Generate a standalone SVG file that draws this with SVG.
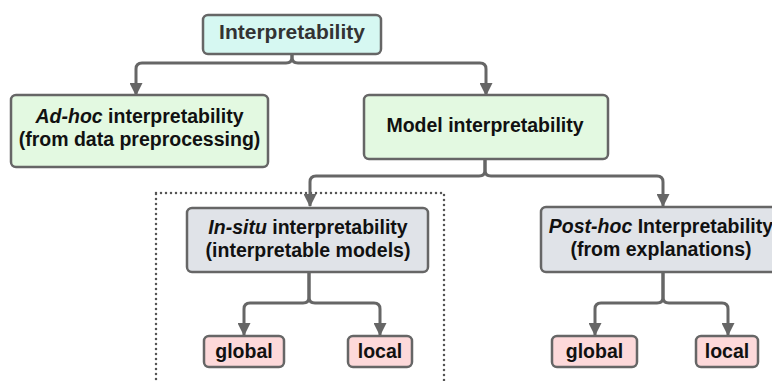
<svg xmlns="http://www.w3.org/2000/svg" width="772" height="381" viewBox="0 0 772 381">
<style>
.box{stroke:#666;stroke-width:2.5}
.c{fill:#d6f8f2}.g{fill:#e3f9e1}.s{fill:#e0e3e8}.p{fill:#fdd9da}
text{font-family:"Liberation Sans",Arial,sans-serif;font-weight:bold;font-size:19.5px;fill:#111;text-anchor:middle}
.conn path{fill:none;stroke:#666;stroke-width:3;marker-end:url(#ah)}
</style>
<defs>
<marker id="ah" markerUnits="userSpaceOnUse" markerWidth="13" markerHeight="13" refX="12" refY="6.5" orient="auto"><path d="M0,0 L13,6.5 L0,13 z" fill="#666"/></marker>
</defs>
<rect x="156" y="193" width="288" height="210" fill="none" stroke="#555" stroke-width="2.5" stroke-dasharray="0 5" stroke-linecap="round"/>
<g class="conn">
<path d="M292,54 V57 Q292,63 286,63 H142 Q136,63 136,69 V95"/>
<path d="M292,54 V57 Q292,63 298,63 H480 Q486,63 486,69 V95"/>
<path d="M485,159 V170 Q485,176 479,176 H316 Q310,176 310,182 V206"/>
<path d="M485,159 V170 Q485,176 491,176 H657 Q663,176 663,182 V206"/>
<path d="M309,272 V297 Q309,303 303,303 H250 Q244,303 244,309 V335"/>
<path d="M309,272 V297 Q309,303 315,303 H374 Q380,303 380,309 V335"/>
<path d="M663,272 V297 Q663,303 657,303 H601 Q595,303 595,309 V335"/>
<path d="M663,272 V297 Q663,303 669,303 H722 Q728,303 728,309 V335"/>
</g>
<g id="root"><rect class="box c" x="203" y="15" width="178" height="39" rx="5"/><text x="292" y="39" style="font-size:21px;fill:#333">Interpretability</text></g>
<g id="adhoc"><rect class="box g" x="11" y="95" width="257" height="72" rx="5"/><text x="139.5" y="123"><tspan font-style="italic">Ad-hoc</tspan> interpretability</text><text x="139.5" y="146">(from data preprocessing)</text></g>
<g id="model"><rect class="box g" x="364" y="95" width="244" height="64" rx="5"/><text x="485" y="132">Model interpretability</text></g>
<g id="insitu"><rect class="box s" x="187" y="208" width="241" height="64" rx="5"/><text x="308" y="234"><tspan font-style="italic">In-situ</tspan> interpretability</text><text x="308" y="257">(interpretable models)</text></g>
<g id="posthoc"><rect class="box s" x="541" y="207" width="244" height="65" rx="5"/><text x="661" y="233"><tspan font-style="italic">Post-hoc</tspan> Interpretability</text><text x="661" y="256">(from explanations)</text></g>
<g id="global1"><rect class="box p" x="204" y="336" width="80" height="31" rx="5"/><text x="244" y="358">global</text></g>
<g id="local1"><rect class="box p" x="348" y="336" width="64" height="31" rx="5"/><text x="380" y="358">local</text></g>
<g id="global2"><rect class="box p" x="552" y="336" width="85" height="31" rx="5"/><text x="594.5" y="358">global</text></g>
<g id="local2"><rect class="box p" x="696" y="336" width="62" height="31" rx="5"/><text x="727" y="358">local</text></g>
</svg>
